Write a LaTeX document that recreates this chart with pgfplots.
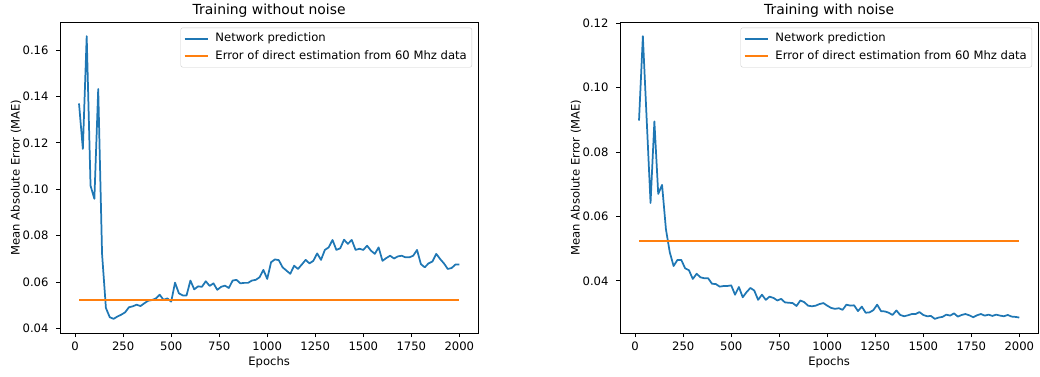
\documentclass[border=0pt]{standalone}
\usepackage{fontspec}
\setmainfont{DejaVu Sans}
\usepackage{pgfplots}
\pgfplotsset{compat=1.18}
\definecolor{mplblue}{HTML}{1F77B4}
\definecolor{mplorange}{HTML}{FF7F0E}
\pgfplotsset{
  mplstyle/.style={
    scale only axis, width=418.3pt, height=311pt,
    xmin=-79, xmax=2099,
    xtick={0,250,500,750,1000,1250,1500,1750,2000},
    axis line style={line width=0.93pt},
    tick align=outside, tick pos=left,
    major tick length=4pt,
    every tick/.style={black, line width=0.93pt},
    tick label style={font=\fontsize{11.6}{13.9}\selectfont},
    /pgf/number format/assume math mode=true,
    /pgf/number format/1000 sep={},
    scaled y ticks=false,
    yticklabel style={/pgf/number format/fixed, /pgf/number format/fixed zerofill, /pgf/number format/precision=2, xshift=-4pt},
    xticklabel style={yshift=-1.5pt},
    xlabel={Epochs},
    ylabel={Mean Absolute Error (MAE)},
    xlabel style={at={(axis description cs:0.5,-0.0955)}, anchor=center, font=\fontsize{11.6}{13.9}\selectfont},
    ylabel style={at={(axis description cs:-0.105,0.5)}, anchor=center, rotate=0, font=\fontsize{11.6}{13.9}\selectfont},
    title style={at={(axis description cs:0.5,1.0376)}, anchor=center, yshift=-6pt, font=\fontsize{13.9}{16}\selectfont},
    legend cell align=left,
    legend style={at={(0.985,0.982)}, anchor=north east, draw=black!20, rounded corners=2pt,
      fill=white, fill opacity=0.8, text opacity=1, font=\fontsize{11.6}{13.9}\selectfont,
      inner xsep=3pt, inner ysep=2.5pt, column sep=5pt,
      nodes={inner sep=2pt, text height=9.5pt, text depth=3.2pt}, row sep=1pt},
    legend image code/.code={\draw[#1] (0pt,0pt) -- (23pt,0pt);},
    every axis plot/.append style={line width=1.74pt, line join=round},
  }
}
\begin{document}
\begin{tikzpicture}
\useasboundingbox (0,0) rectangle (1040pt,376pt);
\begin{axis}[mplstyle, at={(60pt,43pt)}, anchor=south west,
  ymin=0.0381, ymax=0.1721,
  ytick={0.04,0.06,0.08,0.10,0.12,0.14,0.16},
  title={Training without noise}]
\addplot[mplblue] coordinates {
(20,0.137) (40,0.1174) (60,0.166) (80,0.1016) (100,0.0959) (120,0.1432) (140,0.0722) (160,0.0489) (180,0.0449) (200,0.0442)
(220,0.0452) (240,0.046) (260,0.047) (280,0.0492) (300,0.0496) (320,0.0503) (340,0.0497) (360,0.0509) (380,0.052) (400,0.0523)
(420,0.053) (440,0.0546) (460,0.0524) (480,0.053) (500,0.0516) (520,0.0598) (540,0.0552) (560,0.0543) (580,0.0543) (600,0.0607)
(620,0.0569) (640,0.0582) (660,0.058) (680,0.0604) (700,0.0584) (720,0.0595) (740,0.0567) (760,0.058) (780,0.0585) (800,0.0575)
(820,0.0607) (840,0.061) (860,0.0595) (880,0.0597) (900,0.0597) (920,0.0607) (940,0.061) (960,0.0621) (980,0.0653) (1000,0.0614)
(1020,0.0686) (1040,0.0698) (1060,0.0695) (1080,0.0664) (1100,0.065) (1120,0.0636) (1140,0.0671) (1160,0.0657) (1180,0.0676) (1200,0.0696)
(1220,0.0681) (1240,0.0692) (1260,0.0724) (1280,0.0696) (1300,0.0739) (1320,0.075) (1340,0.0782) (1360,0.0739) (1380,0.0746) (1400,0.0783)
(1420,0.0765) (1440,0.0782) (1460,0.0739) (1480,0.0744) (1500,0.0739) (1520,0.0757) (1540,0.0736) (1560,0.0722) (1580,0.075) (1600,0.0692)
(1620,0.0704) (1640,0.0714) (1660,0.0702) (1680,0.0711) (1700,0.0714) (1720,0.0707) (1740,0.0707) (1760,0.0714) (1780,0.0739) (1800,0.0678)
(1820,0.0664) (1840,0.0681) (1860,0.0689) (1880,0.0722) (1900,0.07) (1920,0.0681) (1940,0.0657) (1960,0.0661) (1980,0.0676) (2000,0.0676)
};
\addlegendentry{Network prediction}
\addplot[mplorange] coordinates {(20,0.0524) (2000,0.0524)};
\addlegendentry{Error of direct estimation from 60 Mhz data}
\end{axis}
\begin{axis}[mplstyle, at={(620pt,43pt)}, anchor=south west,
  ymin=0.0238, ymax=0.1204,
  ytick={0.04,0.06,0.08,0.10,0.12},
  title={Training with noise}]
\addplot[mplblue] coordinates {
(20,0.0898) (40,0.116) (60,0.090) (80,0.0642) (100,0.0895) (120,0.067) (140,0.0698) (160,0.0561) (180,0.0489) (200,0.0446)
(220,0.0465) (240,0.0465) (260,0.0439) (280,0.0433) (300,0.0406) (320,0.0422) (340,0.0411) (360,0.0408) (380,0.0408) (400,0.0391)
(420,0.039) (440,0.0382) (460,0.0384) (480,0.0384) (500,0.0386) (520,0.0357) (540,0.0381) (560,0.0349) (580,0.0365) (600,0.0378)
(620,0.037) (640,0.0341) (660,0.0357) (680,0.0341) (700,0.0351) (720,0.0347) (740,0.0339) (760,0.0344) (780,0.0333) (800,0.0332)
(820,0.0331) (840,0.0322) (860,0.0339) (880,0.0334) (900,0.0323) (920,0.0321) (940,0.0323) (960,0.0328) (980,0.0331) (1000,0.0323)
(1020,0.0316) (1040,0.0313) (1060,0.0315) (1080,0.031) (1100,0.0326) (1120,0.0323) (1140,0.0324) (1160,0.0306) (1180,0.032) (1200,0.0301)
(1220,0.0302) (1240,0.0309) (1260,0.0326) (1280,0.0306) (1300,0.0305) (1320,0.0301) (1340,0.0294) (1360,0.0308) (1380,0.0294) (1400,0.029)
(1420,0.0293) (1440,0.0297) (1460,0.0297) (1480,0.0303) (1500,0.0294) (1520,0.029) (1540,0.0291) (1560,0.0282) (1580,0.0286) (1600,0.0288)
(1620,0.0295) (1640,0.0292) (1660,0.0299) (1680,0.0289) (1700,0.0294) (1720,0.0297) (1740,0.0293) (1760,0.0287) (1780,0.0293) (1800,0.0297)
(1820,0.0292) (1840,0.0295) (1860,0.0291) (1880,0.0295) (1900,0.0292) (1920,0.029) (1940,0.0294) (1960,0.0289) (1980,0.0288) (2000,0.0286)
};
\addlegendentry{Network prediction}
\addplot[mplorange] coordinates {(20,0.0524) (2000,0.0524)};
\addlegendentry{Error of direct estimation from 60 Mhz data}
\end{axis}
\end{tikzpicture}
\end{document}
